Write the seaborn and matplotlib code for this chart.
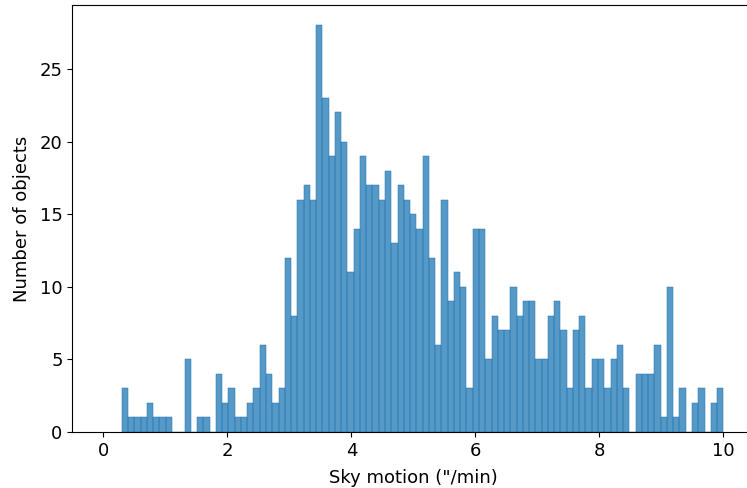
import numpy as np
import pandas as pd
import matplotlib
matplotlib.use("Agg")
import matplotlib.pyplot as plt
import seaborn as sns

# counts per bin (96 equal bins between 0.3 and 10 "/min)
counts = [3, 1, 1, 1, 2, 1, 1, 1, 0, 0, 5, 0, 1, 1, 0, 4, 2, 3, 1, 1,
          2, 3, 6, 4, 2, 3, 12, 8, 16, 17, 16, 28, 23, 19, 22, 20, 11, 14, 19, 17,
          17, 16, 18, 13, 17, 16, 15, 14, 19, 12, 6, 16, 9, 11, 10, 3, 14, 14, 5, 8,
          7, 7, 10, 8, 9, 9, 5, 5, 8, 9, 7, 3, 7, 8, 3, 5, 5, 3, 5, 6,
          3, 0, 4, 4, 4, 6, 1, 10, 1, 3, 0, 2, 3, 0, 2, 3]
bin_lo = 0.3
bin_hi = 10.0

edges = np.linspace(bin_lo, bin_hi, len(counts) + 1)
df = pd.DataFrame({
    "motion": (edges[:-1] + edges[1:]) / 2,
    "n": counts,
})

plt.rcParams["font.size"] = 13

fig = plt.figure(figsize=(7.47, 4.88), dpi=100)
# reference is cropped on the right, so the axes run slightly past the figure edge
ax = fig.add_axes([0.0968, 0.1148, 0.913, 0.875])
sns.histplot(data=df, x="motion", weights="n", bins=list(edges), ax=ax,
             edgecolor="#1f77b4", linewidth=0.35)
ax.set_xlim(-0.5, 10.5)
ax.set_xlabel('Sky motion ("/min)', labelpad=7)
ax.set_ylabel("Number of objects", labelpad=6)
fig.savefig("out.png", dpi=100)
